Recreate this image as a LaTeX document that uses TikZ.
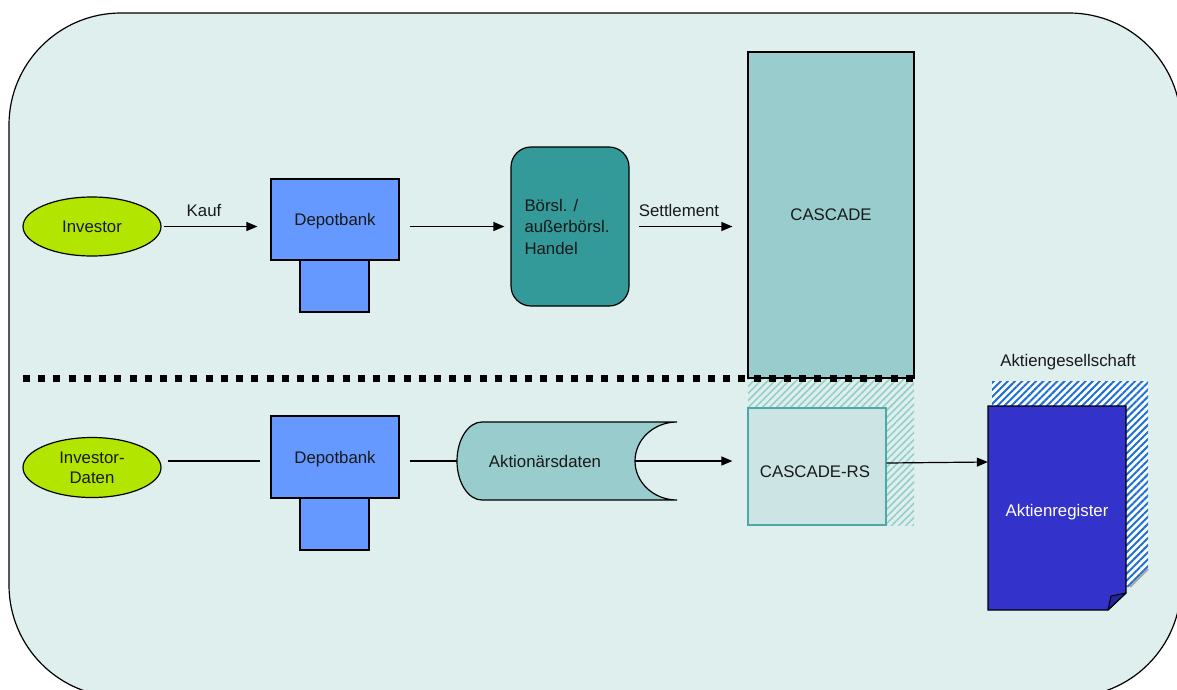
\documentclass[tikz,border=0pt]{standalone}
\usepackage{fontspec}
\setmainfont{Liberation Sans}
\usetikzlibrary{shapes.geometric,arrows.meta,patterns.meta}
\definecolor{bgc}{RGB}{223,239,238}
\definecolor{limec}{RGB}{178,230,0}
\definecolor{depc}{RGB}{102,153,255}
\definecolor{borsc}{RGB}{51,153,153}
\definecolor{cascc}{RGB}{153,204,204}
\definecolor{crsfill}{RGB}{204,228,228}
\definecolor{crsdraw}{RGB}{77,168,168}
\definecolor{tealhatch}{RGB}{150,206,202}
\definecolor{bluehatch}{RGB}{30,112,214}
\definecolor{regc}{RGB}{51,51,204}
\definecolor{txt}{RGB}{25,25,25}
\tikzset{
  lbl/.style={inner sep=0pt, text=txt, font=\fontsize{16.8}{20}\selectfont},
  boxn/.style={lbl, draw=black, line width=1.2pt},
  ellip/.style={boxn, ellipse, fill=limec, align=center},
  arr/.style={line width=1.2pt, -{Triangle[length=11pt,width=9pt]}},
  plainline/.style={line width=1.2pt},
}
\begin{document}
\begin{tikzpicture}[x=1pt,y=-1pt]
\useasboundingbox (0,0) rectangle (1177,689);
% outer frame
\draw[fill=bgc, line width=1.2pt, rounded corners=112pt] (9,13) rectangle (1181,697);

% ---------- top row ----------
\node[ellip, minimum width=138pt, minimum height=59pt] (inv) at (92,226.5) {Investor};
\node[boxn, fill=depc, minimum width=69pt, minimum height=52pt] (dep1s) at (334.5,286) {};
\node[boxn, fill=depc, minimum width=128pt, minimum height=81pt, text depth=0pt] (dep1) at (335,219.5) {Depotbank};
\node[boxn, fill=borsc, rounded corners=20pt, minimum width=118pt, minimum height=159pt, align=left, font=\fontsize{16.8}{21.5}\selectfont] (bors) at (570,226.5) {\hspace*{-6pt}Börsl. /\\\hspace*{-6pt}außerbörsl.\\\hspace*{-6pt}Handel};
\node[boxn, fill=cascc, minimum width=166pt, minimum height=326pt, text depth=0pt] (casc) at (831,215) {CASCADE};

\draw[arr, shorten <=2pt, shorten >=13pt] (inv.east) -- (inv.east -| dep1.west);
\node[lbl] (kauf) at (204,210) {Kauf};
\draw[arr, shorten <=10pt, shorten >=6pt] (bors.west -| dep1.east) -- (bors.west);
\draw[arr, shorten <=9pt, shorten >=15pt] (bors.east) -- (bors.east -| casc.west);
\node[lbl] (settl) at (679,210) {Settlement};

% ---------- shadows ----------
\fill[pattern={Lines[angle=45,distance=5pt,line width=1.6pt]}, pattern color=tealhatch] (748,379) rectangle (914,525);
\fill[white] (992,381) -- (1148,381) -- (1148,568) -- (1129,587) -- (992,587) -- cycle;
\fill[pattern={Lines[angle=45,distance=5pt,line width=2pt]}, pattern color=bluehatch] (992,381) -- (1148,381) -- (1148,568) -- (1129,587) -- (992,587) -- cycle;
\draw[gray!70, line width=2pt] (1148,569) -- (1130,587);

% CASCADE-RS
\node[boxn, draw=crsdraw, fill=crsfill, line width=1.2pt, minimum width=138pt, minimum height=117pt] (crs) at (817,466.5) {};
\node[lbl] (crst) at (815,472) {CASCADE-RS};

% dotted separator
\coordinate (sepL) at (23,378.5);
\coordinate (sepR) at (913,378.5);
\draw[line width=7pt, dash pattern=on 7pt off 8.22pt] (sepL) -- (sepR);

% ---------- bottom row ----------
\node[ellip, minimum width=138pt, minimum height=60pt] (invd) at (92,467.5) {Investor-\\Daten};
\node[boxn, fill=depc, minimum width=69pt, minimum height=52pt] (dep2s) at (334.5,524) {};
\node[boxn, fill=depc, minimum width=128pt, minimum height=82pt, text depth=0pt] (dep2) at (335,457) {Depotbank};

% Aktionaersdaten shape
\draw[fill=cascc, line width=1.2pt]
  (482,422) -- (677,422)
  .. controls (653.8,422) and (635,439.5) .. (635,461)
  .. controls (635,482.5) and (653.8,500) .. (677,500)
  -- (482,500)
  .. controls (468.2,500) and (457,482.5) .. (457,461)
  .. controls (457,439.5) and (468.2,422) .. (482,422) -- cycle;
\node[lbl] (akt) at (545,461) {Aktionärsdaten};
\coordinate (akL) at (457,461);
\coordinate (akR) at (635,461);

\draw[plainline, shorten <=6pt, shorten >=10pt] (invd.east |- akL) -- (dep2.west |- akL);
\draw[plainline, shorten <=10pt] (dep2.east |- akL) -- (akL);
\draw[arr, shorten >=15pt] (akR) -- (akR -| crs.west);

% Aktienregister page
\node[lbl] (ag) at (1068,362) {Aktiengesellschaft};
\draw[fill=regc, line width=1.2pt] (988,406) -- (1126,406) -- (1126,593) -- (1108,610) -- (988,610) -- cycle;
\draw[fill=regc!75!black, line width=1pt, line join=round] (1108,610) -- (1111,596) -- (1126,593) -- cycle;
\node[lbl, text=white, minimum width=138pt, minimum height=204pt, text depth=0pt] (reg) at (1057,510) {Aktienregister};

\draw[arr] (crs.east |- 0,463) -- (reg.west |- 0,462);
\end{tikzpicture}
\end{document}
